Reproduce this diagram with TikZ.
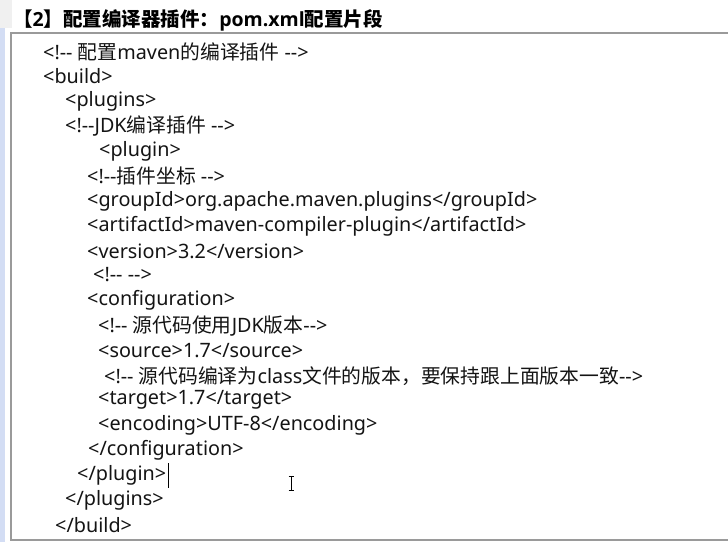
\documentclass[tikz,border=0pt]{standalone}
\usepackage{fontspec}
\setmainfont{Noto Sans}[Ligatures=TeXOff]
\newfontfamily\cjk{Noto Sans CJK SC}
\newfontfamily\ttllat{Open Sans}
\newcommand{\C}[1]{{\cjk #1}}
\newcommand{\T}[1]{{\ttllat\bfseries #1}}
\definecolor{txt}{HTML}{141414}
\definecolor{frame}{HTML}{9A9A9A}
\definecolor{strip}{HTML}{D3DDF4}
\begin{document}
\begin{tikzpicture}[x=1pt,y=-1pt,
  code/.style={anchor=west,inner sep=0pt,text=txt,font=\fontsize{19.8}{22}\selectfont},
  ttl/.style={anchor=west,inner sep=0pt,text=black,font=\fontsize{19.5}{22}\selectfont\bfseries}]
\useasboundingbox (0,0) rectangle (728,542);
\fill[white] (0,0) rectangle (728,542);
\fill[strip] (0,0) rectangle (4.5,542);
\fill[black!6] (0,0) rectangle (12,28);
\draw[frame,line width=2pt] (735,33) -- (11,33) -- (11,540) -- (735,540);
\node[ttl] (title) at (13,20) {\C{【}\T{2}\C{】配置编译器插件：}\T{pom.xml}\C{配置片段}};
\node[code] (l1) at (43,52) {<!-- \C{配置}maven\C{的编译插件} -->};
\node[code] (l2) at (43,76) {<build>};
\node[code] (l3) at (65,101) {<plugins>};
\node[code] (l4) at (65,126) {<!--JDK\C{编译插件} -->};
\node[code] (l5) at (99,151) {<plugin>};
\node[code] (l6) at (87,176) {<!--\C{插件坐标} -->};
\node[code] (l7) at (87,201) {<groupId>org.apache.maven.plugins</groupId>};
\node[code] (l8) at (87,226) {<artifactId>maven-compiler-plugin</artifactId>};
\node[code] (l9) at (87,251) {<version>3.2</version>};
\node[code] (l10) at (93,275) {<!-- -->};
\node[code] (l11) at (87,300) {<configuration>};
\node[code] (l12) at (98,326) {<!-- \C{源代码使用}JDK\C{版本}-->};
\node[code] (l13) at (98,351) {<source>1.7</source>};
\node[code] (l14) at (104,376) {<!-- \C{源代码编译为}class\C{文件的版本，要保持跟上面版本一致}-->};
\node[code] (l15) at (98,400) {<target>1.7</target>};
\node[code] (l16) at (98,425) {<encoding>UTF-8</encoding>};
\node[code] (l17) at (88,450) {</configuration>};
\node[code] (l18) at (77,475) {</plugin>};
\node[code] (l19) at (65,500) {</plugins>};
\node[code] (l20) at (55,525) {</build>};
% text cursor
\coordinate (c1) at ([xshift=2pt]l18.east |- 0,463);
\coordinate (c2) at ([xshift=2pt]l18.east |- 0,488);
\draw[black,line width=0.9pt] (c1) -- (c2);
% I-beam mouse cursor
\coordinate (ib1) at (291,476);
\coordinate (ib2) at (291,490);
\draw[black,line width=0.9pt] (ib1) -- (ib2);
\draw[black,line width=0.8pt] ([xshift=-2.5pt]ib1) -- ([xshift=2.5pt]ib1);
\draw[black,line width=0.8pt] ([xshift=-2.5pt]ib2) -- ([xshift=2.5pt]ib2);
\end{tikzpicture}
\end{document}
